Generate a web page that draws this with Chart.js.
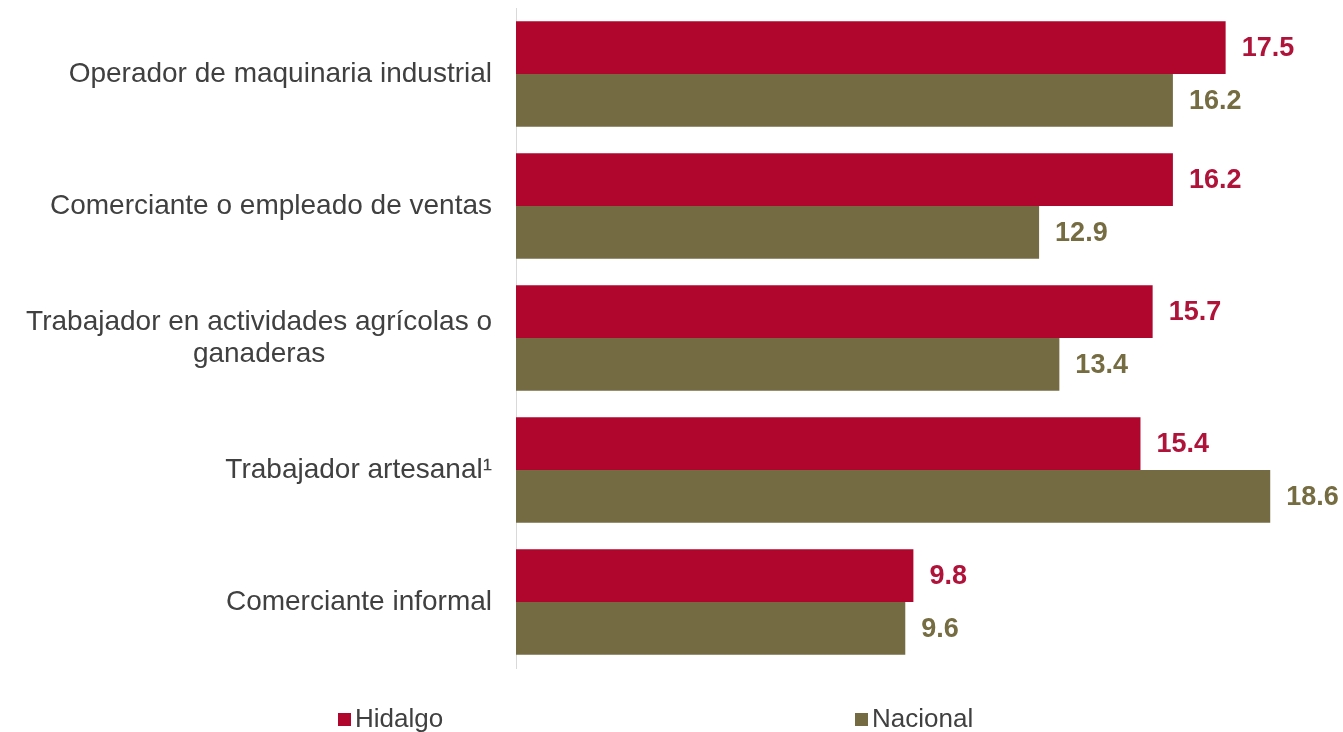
<!DOCTYPE html>
<html>
<head>
<meta charset="utf-8">
<script src="https://cdn.jsdelivr.net/npm/chart.js@4/dist/chart.umd.min.js"></script>
<style>
    html, body { margin: 0; padding: 0; background: #fff; }
    #wrap { position: relative; width: 1343px; height: 732px; }
    .legend-item {
        position: absolute;
        top: 703px;
        font-family: "Liberation Sans", Arial, sans-serif;
        font-size: 26px;
        color: #404040;
        line-height: 30px;
        white-space: nowrap;
    }
    .legend-item span {
        display: inline-block;
        width: 13px;
        height: 13px;
        margin-right: 4px;
        vertical-align: 1px;
    }
</style>
</head>
<body>
<div id="wrap">
    <canvas id="chart" width="1343" height="732"></canvas>
    <div class="legend-item" style="left: 338px;"><span style="background:#b0062d"></span>Hidalgo</div>
    <div class="legend-item" style="left: 855px;"><span style="background:#756b42"></span>Nacional</div>
</div>
<script>
const categories = [
    'Operador de maquinaria industrial',
    'Comerciante o empleado de ventas',
    ['Trabajador en actividades agrícolas o', 'ganaderas'],
    'Trabajador artesanal¹',
    'Comerciante informal'
];
const hidalgo = [17.5, 16.2, 15.7, 15.4, 9.8];
const nacional = [16.2, 12.9, 13.4, 18.6, 9.6];

const redColor = '#b0062d';
const oliveColor = '#756b42';

// etiquetas de valor a la derecha de cada barra
const valueLabels = {
    id: 'valueLabels',
    afterDatasetsDraw(chart) {
        const ctx = chart.ctx;
        ctx.save();
        ctx.font = 'bold 27px "Liberation Sans", Arial, sans-serif';
        ctx.textBaseline = 'middle';
        ctx.textAlign = 'left';
        chart.data.datasets.forEach((ds, i) => {
            const meta = chart.getDatasetMeta(i);
            ctx.fillStyle = ds.labelColor;
            meta.data.forEach((bar, j) => {
                ctx.fillText(ds.data[j].toFixed(1), bar.x + 16, bar.y + 1);
            });
        });
        ctx.restore();
    }
};

// categorías: bloque alineado a la derecha, líneas centradas entre sí
const categoryLabels = {
    id: 'categoryLabels',
    afterDraw(chart) {
        const ctx = chart.ctx;
        const yScale = chart.scales.y;
        const right = yScale.right - 24;
        const lineH = 32;
        ctx.save();
        ctx.font = '28px "Liberation Sans", Arial, sans-serif';
        ctx.fillStyle = '#404040';
        ctx.textBaseline = 'middle';
        ctx.textAlign = 'center';
        chart.data.labels.forEach((label, i) => {
            const lines = Array.isArray(label) ? label : [label];
            const w = Math.max(...lines.map(l => ctx.measureText(l).width));
            const cy = yScale.getPixelForValue(i);
            lines.forEach((line, k) => {
                ctx.fillText(line, right - w / 2, cy + (k - (lines.length - 1) / 2) * lineH);
            });
        });
        ctx.restore();
    }
};

new Chart(document.getElementById('chart'), {
    type: 'bar',
    data: {
        labels: categories,
        datasets: [{
            label: 'Hidalgo',
            data: hidalgo,
            backgroundColor: redColor,
            labelColor: '#b0133a',
            categoryPercentage: 0.8,
            barPercentage: 1.0
        }, {
            label: 'Nacional',
            data: nacional,
            backgroundColor: oliveColor,
            labelColor: '#766c42',
            categoryPercentage: 0.8,
            barPercentage: 1.0
        }]
    },
    options: {
        indexAxis: 'y',
        responsive: false,
        animation: false,
        layout: {
            padding: { top: 8, right: 16, bottom: 64, left: 0 }
        },
        plugins: {
            legend: { display: false },
            tooltip: { enabled: false }
        },
        scales: {
            x: {
                min: 0,
                max: 20,
                display: false
            },
            y: {
                grid: { display: false, drawTicks: false },
                border: { display: true, color: '#d9d9d9', width: 1 },
                ticks: { display: false },
                afterFit(scale) {
                    scale.width = 516;
                    scale.paddingTop = 0;
                    scale.paddingBottom = 0;
                }
            }
        }
    },
    plugins: [valueLabels, categoryLabels]
});
</script>
</body>
</html>
